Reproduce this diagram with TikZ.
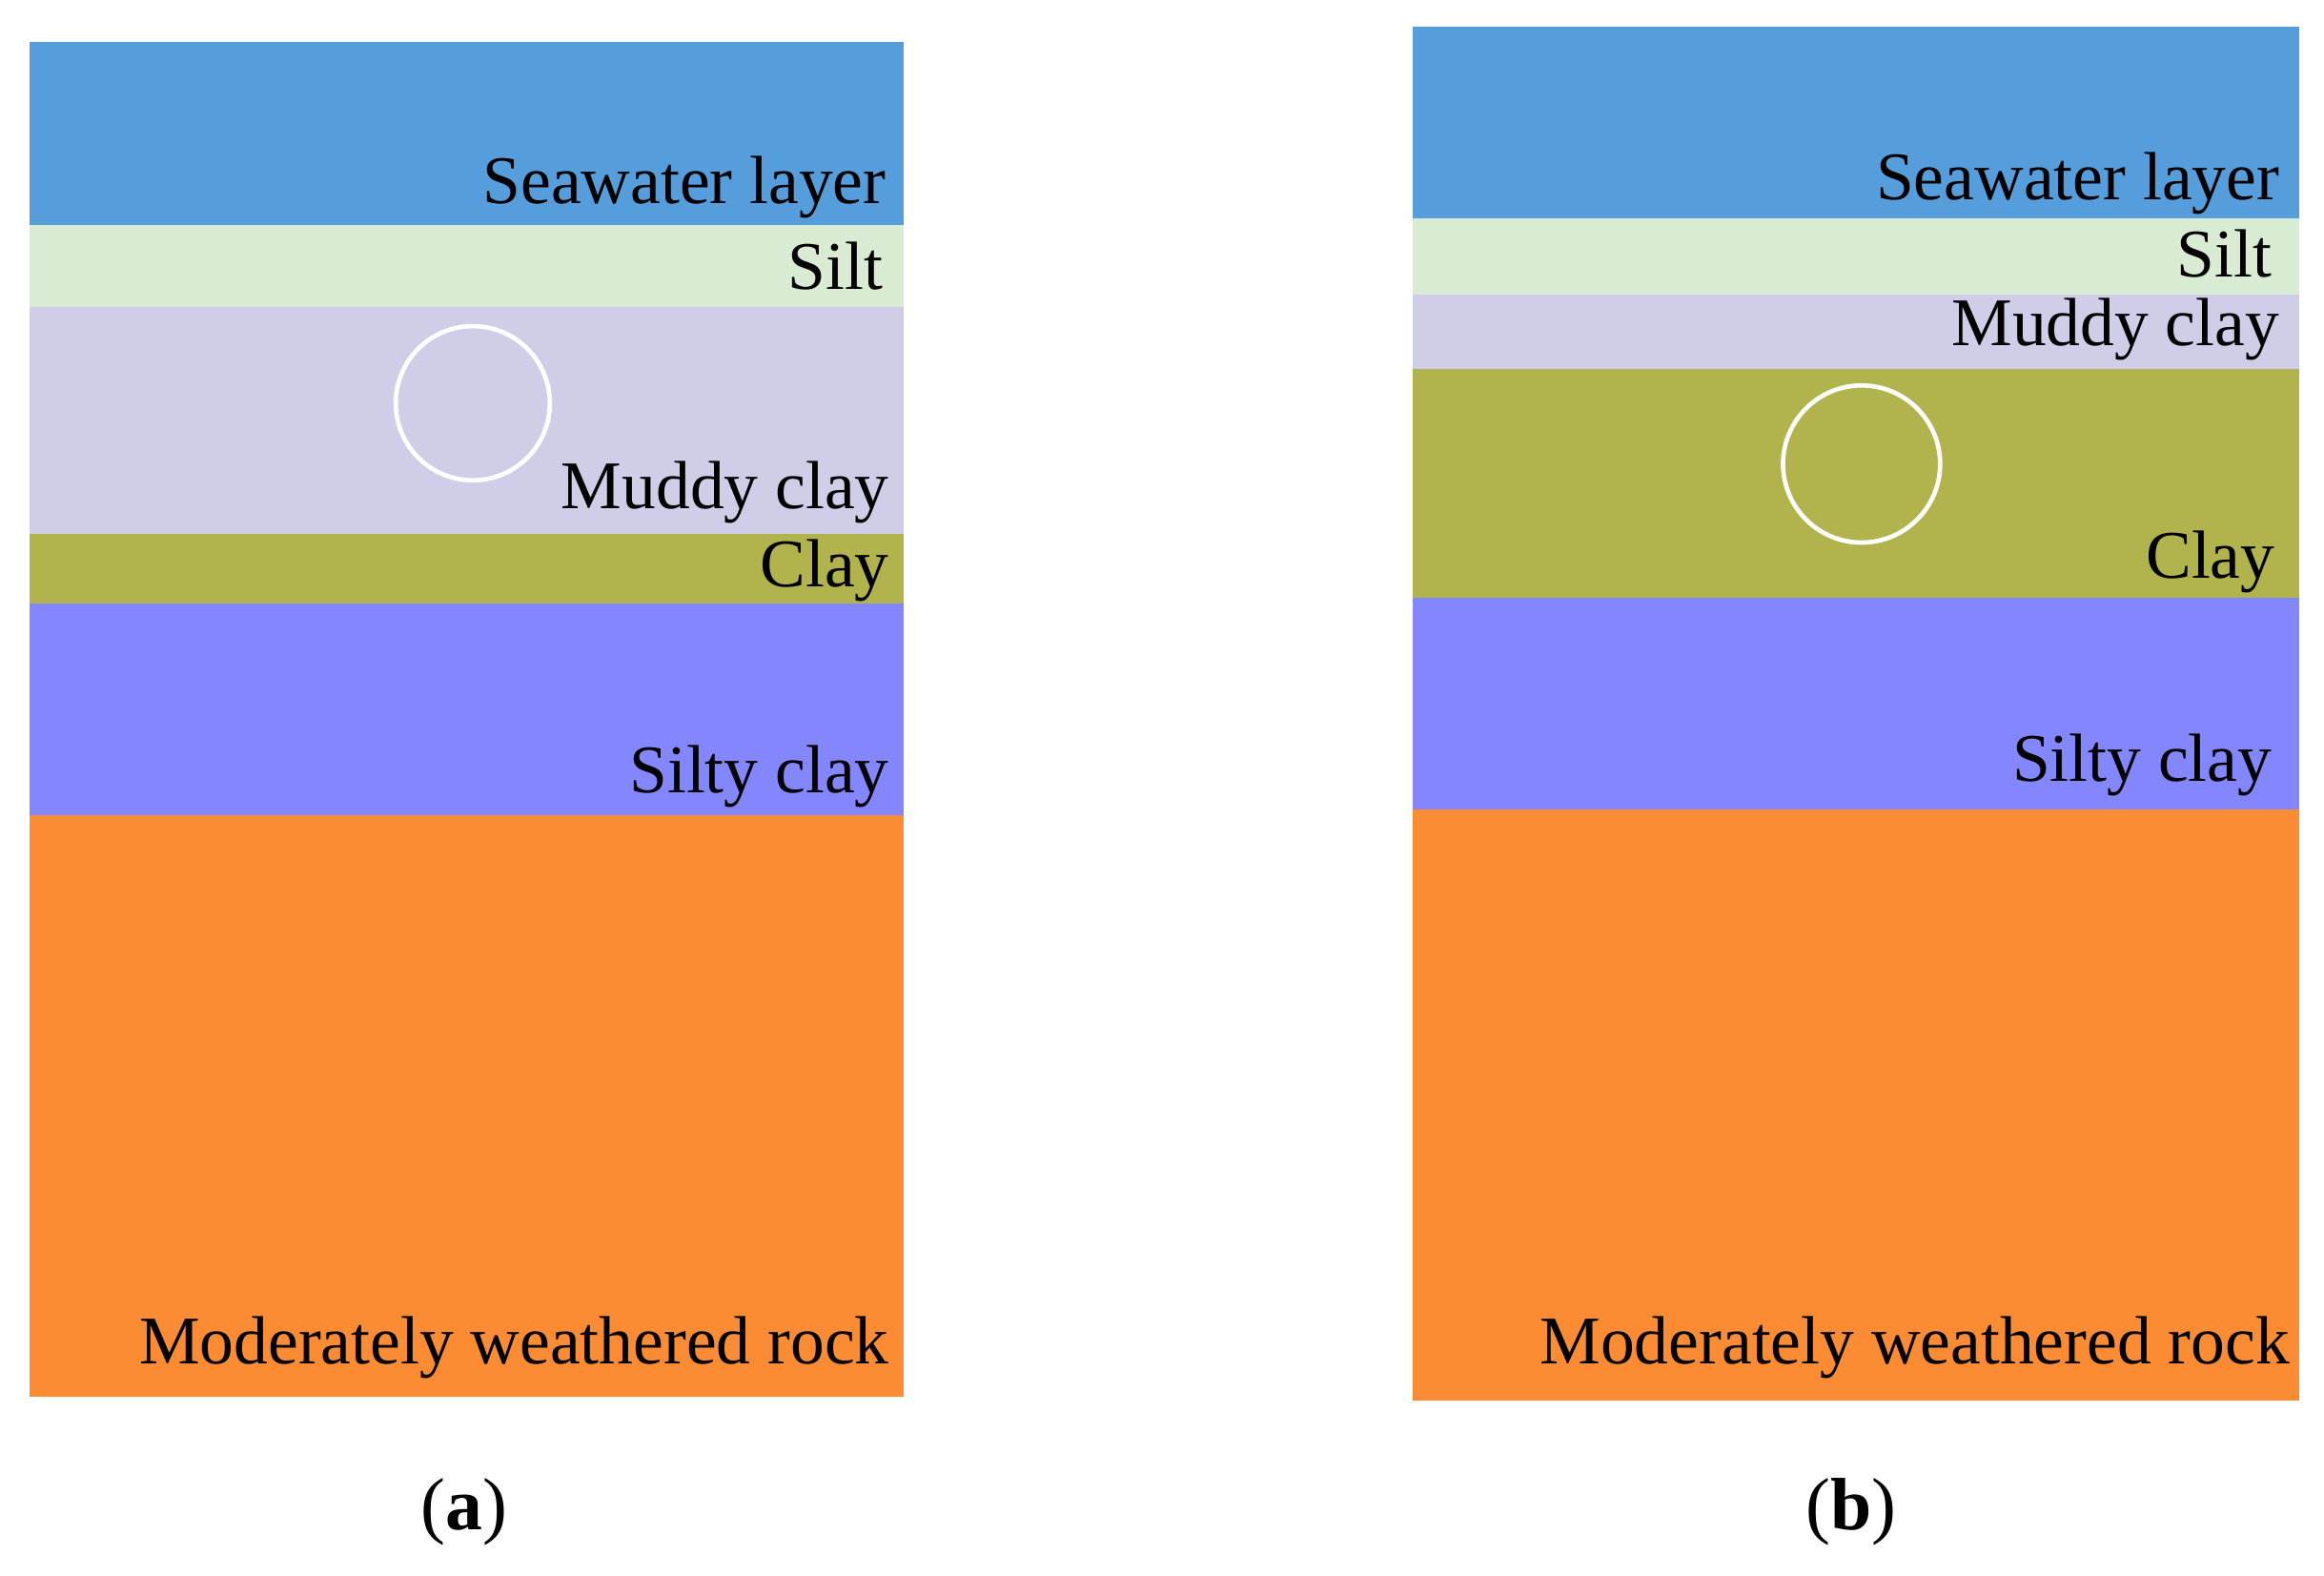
\documentclass[tikz,border=0pt]{standalone}
\usepackage{fontspec}
\setmainfont{Liberation Serif}
\definecolor{seawater}{HTML}{569DDB}
\definecolor{silt}{HTML}{D9EBD3}
\definecolor{muddy}{HTML}{CFCDE8}
\definecolor{clay}{HTML}{B1B44C}
\definecolor{silty}{HTML}{8386FC}
\definecolor{rock}{HTML}{FC8C34}
\tikzset{
	lbl/.style={anchor=base east, inner sep=0pt, font=\fontsize{46}{46}\selectfont},
	subcap/.style={inner sep=0pt, font=\fontsize{50}{50}\selectfont},
	hole/.style={draw=white, line width=3pt}
}
\begin{document}
\begin{tikzpicture}[x=1pt,y=-1pt]
\useasboundingbox (0,0) rectangle (1568,1063);
% (a)
\fill[seawater] (20,28) rectangle (610,152);
\fill[silt] (20,152) rectangle (610,207);
\fill[muddy] (20,207) rectangle (610,360);
\fill[clay] (20,360) rectangle (610,407);
\fill[silty] (20,407) rectangle (610,550);
\fill[rock] (20,550) rectangle (610,942);
\node[hole, circle, minimum size=104pt] (ha) at (319,272) {};
\node[lbl] (sa) at (598,137) {Seawater layer};
\node[lbl] (ta) at (596,195) {Silt};
\node[lbl] (ma) at (600,343) {Muddy clay};
\node[lbl] (ca) at (600,396) {Clay};
\node[lbl] (ya) at (600,535) {Silty clay};
\node[lbl] (ra) at (600,920) {Moderately weathered rock};
\node[subcap] (la) at (313,1020) {(\textbf{a})};
% (b)
\fill[seawater] (953,18) rectangle (1551,147);
\fill[silt] (953,147) rectangle (1551,199);
\fill[muddy] (953,199) rectangle (1551,249);
\fill[clay] (953,249) rectangle (1551,403);
\fill[silty] (953,403) rectangle (1551,546);
\fill[rock] (953,546) rectangle (1551,945);
\node[hole, circle, minimum size=106pt] (hb) at (1256,313) {};
\node[lbl] (sb) at (1538,135) {Seawater layer};
\node[lbl] (tb) at (1533,187) {Silt};
\node[lbl] (mb) at (1538,233) {Muddy clay};
\node[lbl] (cb) at (1535,390) {Clay};
\node[lbl] (yb) at (1533,527) {Silty clay};
\node[lbl] (rb) at (1545,920) {Moderately weathered rock};
\node[subcap] (lb) at (1249,1020) {(\textbf{b})};
\end{tikzpicture}
\end{document}
